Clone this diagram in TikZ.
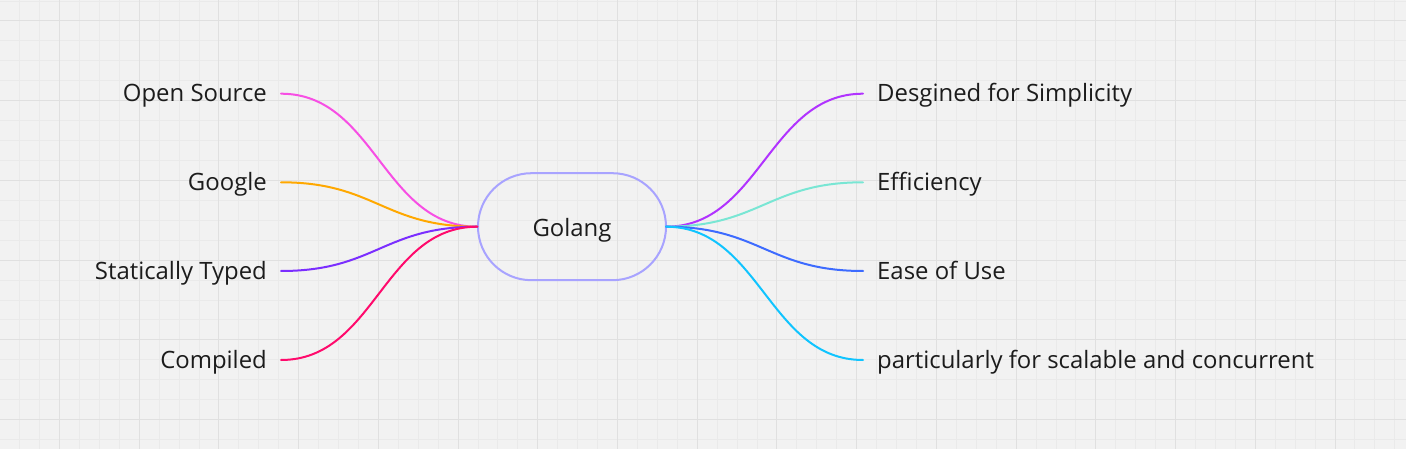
\documentclass[tikz,border=0pt]{standalone}
\usepackage{fontspec}
\setmainfont{Open Sans}
\definecolor{bg}{HTML}{F2F2F2}
\definecolor{gridminor}{HTML}{EAEAEA}
\definecolor{gridmajor}{HTML}{E0E0E0}
\definecolor{txt}{HTML}{1C1C1C}
\definecolor{pill}{HTML}{A8A3FF}
\definecolor{cOpen}{HTML}{F74FE4}
\definecolor{cGoogle}{HTML}{FFA800}
\definecolor{cStatic}{HTML}{7B2EFF}
\definecolor{cCompiled}{HTML}{FF0A6C}
\definecolor{cDesign}{HTML}{B133FF}
\definecolor{cEff}{HTML}{79E6D4}
\definecolor{cEase}{HTML}{3D6BFF}
\definecolor{cPart}{HTML}{10C4FF}
\tikzset{
  lbl/.style={font=\fontsize{23.9}{28}\selectfont, text=txt, inner xsep=14pt, inner ysep=0pt},
  lleft/.style={lbl, anchor=base east},
  lright/.style={lbl, anchor=base west},
  centre/.style={draw=pill, line width=2pt, rounded corners=53.5pt, minimum width=188pt, minimum height=107pt, inner sep=0pt, text height=20.6pt, text depth=0pt, font=\fontsize{23.9}{28}\selectfont, text=txt},
  conn/.style={line width=2pt, line cap=round}
}
\begin{document}
\begin{tikzpicture}[x=1pt,y=-1pt]
\useasboundingbox (0,0) rectangle (1406,449);
\fill[bg] (0,0) rectangle (1406,449);
% grid
\foreach \i in {0,...,71} {
  \pgfmathsetmacro{\gx}{-0.3+19.93*\i}
  \draw[gridminor, line width=1pt] (\gx,0) -- (\gx,449);
}
\foreach \i in {0,...,23} {
  \pgfmathsetmacro{\gy}{1.07+19.93*\i}
  \draw[gridminor, line width=1pt] (0,\gy) -- (1406,\gy);
}
\foreach \i in {0,...,17} {
  \pgfmathsetmacro{\gx}{59.5+79.72*\i}
  \draw[gridmajor, line width=1pt] (\gx,0) -- (\gx,449);
}
\foreach \i in {0,...,5} {
  \pgfmathsetmacro{\gy}{21+79.72*\i}
  \draw[gridmajor, line width=1pt] (0,\gy) -- (1406,\gy);
}
% centre
\node[centre] (go) at (572,226.7) {Golang};
\coordinate (gl) at (477.3,226.7);
\coordinate (gr) at (666,226.7);
% left labels (base anchors: baseline 8.3 below the connector level)
\node[lleft] (open) at (281,102) {Open Source};
\node[lleft] (google) at (281,190.6) {Google};
\node[lleft] (static) at (281,279.3) {Statically Typed};
\node[lleft] (comp) at (281,368.3) {Compiled};
% right labels
\node[lright] (des) at (863,102) {Desgined for Simplicity};
\node[lright] (eff) at (863,190.6) {Efficiency};
\node[lright] (ease) at (863,279.3) {Ease of Use};
\node[lright] (part) at (863,368.3) {particularly for scalable and concurrent};
% connector ends beside each label
\coordinate (openE) at (281,93.7);
\coordinate (googleE) at (281,182.3);
\coordinate (staticE) at (281,271);
\coordinate (compE) at (281,360);
\coordinate (desW) at (863,93.7);
\coordinate (effW) at (863,182.3);
\coordinate (easeW) at (863,271);
\coordinate (partW) at (863,360);
% connectors
\draw[conn, cOpen] (openE) .. controls +(94,0) and +(-94,0) .. (gl);
\draw[conn, cGoogle] (googleE) .. controls +(94,0) and +(-94,0) .. (gl);
\draw[conn, cStatic] (staticE) .. controls +(94,0) and +(-94,0) .. (gl);
\draw[conn, cCompiled] (compE) .. controls +(94,0) and +(-94,0) .. (gl);
\draw[conn, cDesign] (gr) .. controls +(94,0) and +(-94,0) .. (desW);
\draw[conn, cEff] (gr) .. controls +(94,0) and +(-94,0) .. (effW);
\draw[conn, cEase] (gr) .. controls +(94,0) and +(-94,0) .. (easeW);
\draw[conn, cPart] (gr) .. controls +(94,0) and +(-94,0) .. (partW);
\end{tikzpicture}
\end{document}
